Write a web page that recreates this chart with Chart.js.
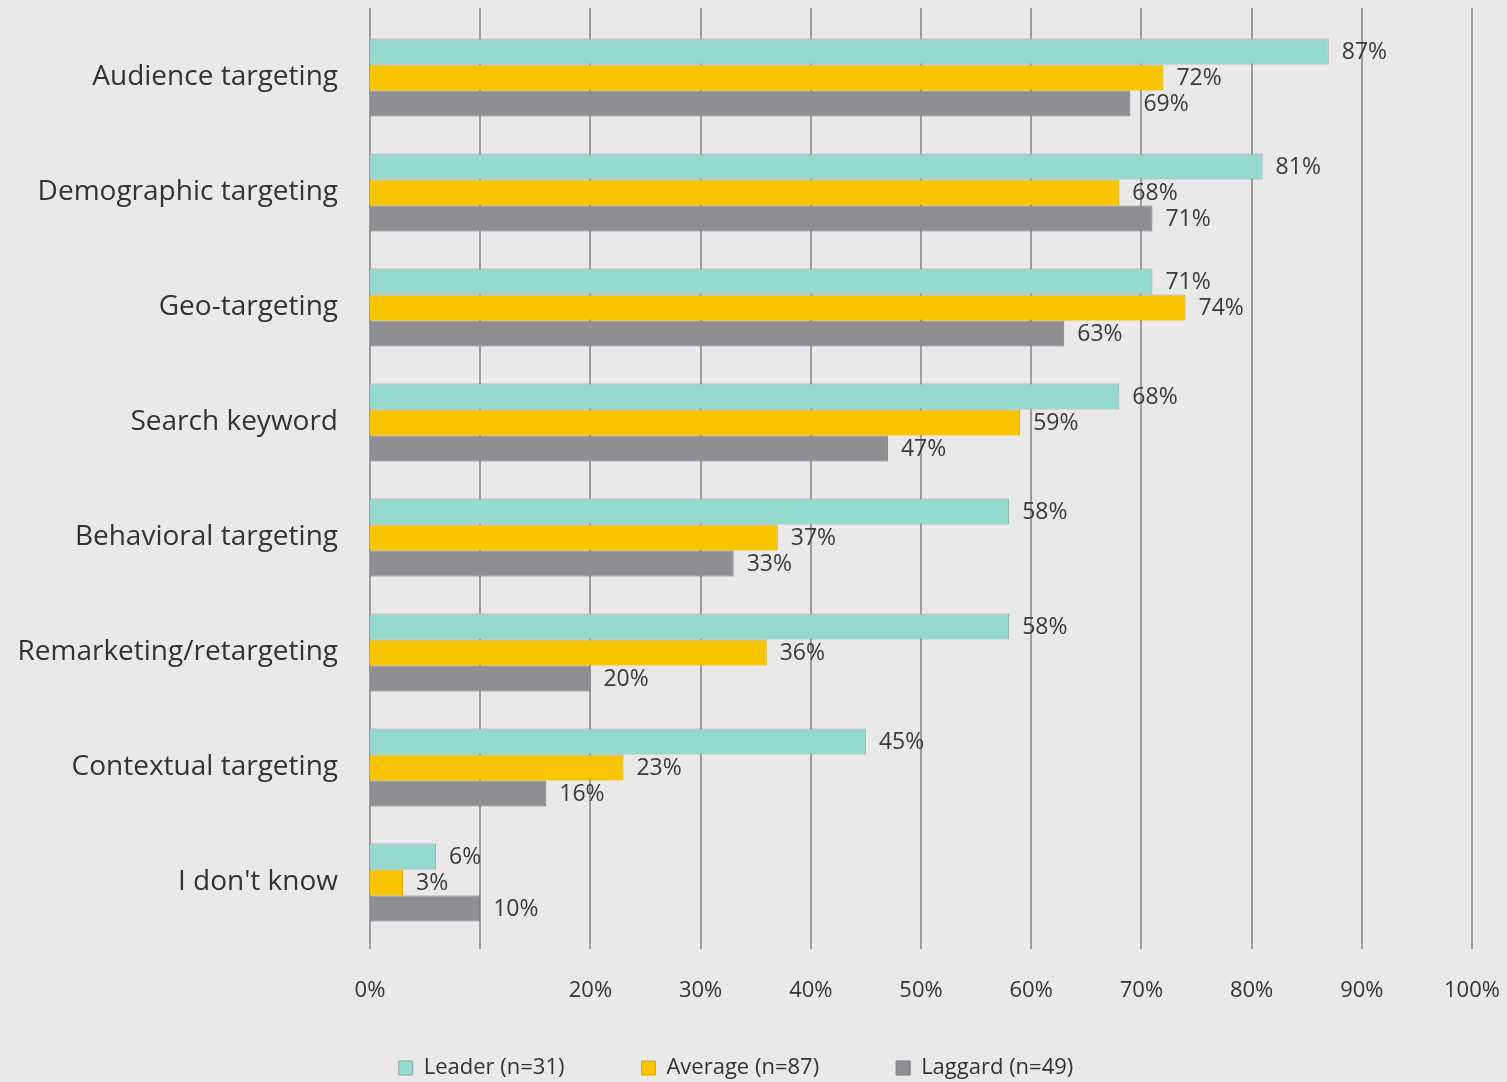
<!DOCTYPE html>
<html>
<head>
<meta charset="utf-8">
<script src="https://cdn.jsdelivr.net/npm/chart.js@4.4.1/dist/chart.umd.min.js"></script>
<style>
  html, body { margin: 0; padding: 0; background: #e9e9e9; }
  #caixa { width: 1507px; height: 1082px; }
</style>
</head>
<body>
<div id="caixa"><canvas id="graficoBarras"></canvas></div>
<script>
// Dados do gráfico
const categorias = ['Audience targeting', 'Demographic targeting', 'Geo-targeting', 'Search keyword',
    'Behavioral targeting', 'Remarketing/retargeting', 'Contextual targeting', "I don't know"];
const series = ['Leader (n=31)', 'Average (n=87)', 'Laggard (n=49)'];
const leader = [87, 81, 71, 68, 58, 58, 45, 6];
const average = [72, 68, 74, 59, 37, 36, 23, 3];
const laggard = [69, 71, 63, 47, 33, 20, 16, 10];
const ticksX = [0, 10, 20, 30, 40, 50, 60, 70, 80, 90, 100];
const rotulosX = ['0%', '', '20%', '30%', '40%', '50%', '60%', '70%', '80%', '90%', '100%']; // 10% sem rótulo

const fonte = '"Open Sans", "Noto Sans", sans-serif';

// Linhas verticais da grade, um pouco além da área do gráfico
const linhasGrade = {
    id: 'linhasGrade',
    beforeDatasetsDraw(chart) {
        const { ctx, chartArea, scales: { x } } = chart;
        ctx.save();
        ctx.strokeStyle = '#9d9d9d';
        ctx.lineWidth = 2;
        ticksX.forEach(v => {
            const px = Math.round(x.getPixelForValue(v));
            ctx.beginPath();
            ctx.moveTo(px, chartArea.top - 12);
            ctx.lineTo(px, chartArea.bottom + 9);
            ctx.stroke();
        });
        ctx.restore();
    }
};

// Rótulos de valor à direita de cada barra
const rotulosValor = {
    id: 'rotulosValor',
    afterDatasetsDraw(chart) {
        const { ctx } = chart;
        ctx.save();
        ctx.font = '23px ' + fonte;
        ctx.fillStyle = '#3a3a3a';
        ctx.textBaseline = 'middle';
        chart.data.datasets.forEach((ds, i) => {
            chart.getDatasetMeta(i).data.forEach((barra, j) => {
                ctx.fillText(ds.data[j] + '%', barra.x + 13, barra.y + 1);
            });
        });
        ctx.restore();
    }
};

const ctx = document.getElementById('graficoBarras').getContext('2d');
new Chart(ctx, {
    type: 'bar',
    data: {
        labels: categorias,
        datasets: [
            { label: series[0], data: leader, backgroundColor: '#96dace', borderColor: '#8fa5a1', borderWidth: 1 },
            { label: series[1], data: average, backgroundColor: '#f9c400', borderColor: '#d5a600', borderWidth: 1 },
            { label: series[2], data: laggard, backgroundColor: '#8f8e93', borderColor: '#7a7a7c', borderWidth: 1 }
        ]
    },
    options: {
        indexAxis: 'y',
        responsive: true,
        maintainAspectRatio: false,
        animation: false,
        categoryPercentage: 0.678,
        barPercentage: 1,
        layout: { padding: { top: 20, right: 35, left: 0, bottom: -7 } },
        plugins: {
            legend: {
                position: 'bottom',
                labels: {
                    boxWidth: 14,
                    boxHeight: 14,
                    padding: 55,
                    color: '#333',
                    font: { family: fonte, size: 22 },
                    // espaço extra entre os itens da legenda
                    generateLabels: chart => Chart.defaults.plugins.legend.labels.generateLabels(chart)
                        .map((item, i, lista) => ({ ...item, text: i < lista.length - 1 ? item.text + '\u2003' : item.text }))
                }
            },
            tooltip: { enabled: false }
        },
        scales: {
            x: {
                min: 0,
                max: 100,
                afterBuildTicks: s => { s.ticks = ticksX.map(v => ({ value: v })); },
                afterFit: s => { s.height = 62; },
                grid: { display: false, drawTicks: true, tickLength: 36 },
                border: { display: false },
                ticks: {
                    padding: 2,
                    color: '#333',
                    font: { family: fonte, size: 22 },
                    callback: v => rotulosX[ticksX.indexOf(v)]
                }
            },
            y: {
                afterFit: s => { s.width = 370; },
                grid: { display: false, drawTicks: true, tickLength: 30 },
                border: { display: false },
                ticks: {
                    padding: 2,
                    color: '#333',
                    font: { family: fonte, size: 28 }
                }
            }
        }
    },
    plugins: [linhasGrade, rotulosValor]
});
</script>
</body>
</html>
